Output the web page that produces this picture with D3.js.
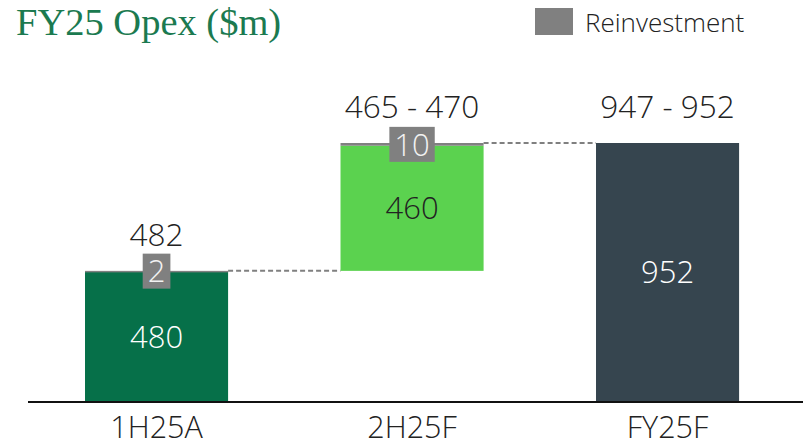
<!DOCTYPE html>
<html>
<head>
<meta charset="utf-8">
<script src="https://cdn.jsdelivr.net/npm/d3@7"></script>
<style>
  html, body { margin: 0; padding: 0; background: #fff; }
  svg { display: block; }
</style>
</head>
<body>
<svg id="chart" width="803" height="447"></svg>
<script>
const categories = ["1H25A", "2H25F", "FY25F"];
const baseValues = [0, 482, 0];
const mainValues = [480, 460, 952];
const reinvestValues = [2, 10, 0];
const topLabels = ["482", "465 - 470", "947 - 952"];
const mainLabels = ["480", "460", "952"];
const reinvestLabels = ["2", "10", ""];

const colors = ["#067049", "#5BD24F", "#36454F"];
const mainLabelColors = ["#ffffff", "#222222", "#ffffff"];
const grey = "#808080";
const font = "'Open Sans', sans-serif";

const svg = d3.select("#chart");

const x = d3.scaleBand().domain(categories).range([28.8, 795.3]).paddingInner(0.44).paddingOuter(0.22);
const y = d3.scaleLinear().domain([0, 952]).range([402, 143]);

// title
svg.append("text")
  .attr("x", 16).attr("y", 34.5)
  .attr("font-family", "Georgia, 'Liberation Serif', 'DejaVu Serif', serif")
  .attr("font-size", 38.5)
  .attr("fill", "#1B7A50")
  .text("FY25 Opex ($m)");

// legend
svg.append("rect").attr("x", 535).attr("y", 8).attr("width", 38).attr("height", 27).attr("fill", grey);
svg.append("text").attr("x", 585).attr("y", 32)
  .attr("font-family", font).attr("font-size", 26).attr("font-weight", 300).attr("fill", "#222")
  .text("Reinvestment");

const data = categories.map((c, i) => ({
  cat: c, base: baseValues[i], main: mainValues[i], re: reinvestValues[i],
  top: topLabels[i], mainLabel: mainLabels[i], reLabel: reinvestLabels[i], color: colors[i], mlc: mainLabelColors[i]
}));

// connectors
for (let i = 0; i < data.length - 1; i++) {
  const d = data[i], n = data[i + 1];
  const lvl = d.base + d.main + d.re;
  svg.append("line")
    .attr("x1", x(d.cat) + x.bandwidth()).attr("x2", x(n.cat))
    .attr("y1", y(lvl)).attr("y2", y(lvl))
    .attr("stroke", grey).attr("stroke-width", 2).attr("stroke-dasharray", "5,3");
}

const g = svg.selectAll("g.bar").data(data).enter().append("g").attr("class", "bar");

g.append("rect")
  .attr("x", d => x(d.cat)).attr("width", x.bandwidth())
  .attr("y", d => y(d.base + d.main))
  .attr("height", d => y(d.base) - y(d.base + d.main))
  .attr("fill", d => d.color);

g.filter(d => d.re > 0).append("rect")
  .attr("x", d => x(d.cat)).attr("width", x.bandwidth())
  .attr("y", d => y(d.base + d.main + d.re))
  .attr("height", d => Math.max(1.5, y(d.base + d.main) - y(d.base + d.main + d.re)))
  .attr("fill", grey);

// main labels
g.append("text")
  .attr("x", d => x(d.cat) + x.bandwidth() / 2)
  .attr("y", d => (y(d.base) + y(d.base + d.main)) / 2)
  .attr("dy", "0.35em")
  .attr("text-anchor", "middle")
  .attr("font-family", font).attr("font-size", 31).attr("font-weight", 300)
  .attr("fill", d => d.mlc)
  .text(d => d.mainLabel);

// top labels
g.append("text")
  .attr("x", d => x(d.cat) + x.bandwidth() / 2)
  .attr("y", d => y(d.base + d.main + d.re) - 25)
  .attr("text-anchor", "middle")
  .attr("font-family", font).attr("font-size", 31.5).attr("font-weight", 300)
  .attr("fill", "#222")
  .text(d => d.top);

// reinvestment boxes
g.filter(d => d.re > 0).each(function(d) {
  const sel = d3.select(this);
  const cx = x(d.cat) + x.bandwidth() / 2;
  const cy = y(d.base + d.main + d.re / 2);
  const rect = sel.append("rect").attr("fill", grey);
  const t = sel.append("text")
    .attr("x", cx).attr("y", cy).attr("dy", "0.36em")
    .attr("text-anchor", "middle")
    .attr("font-family", font).attr("font-size", 31).attr("font-weight", 300)
    .attr("fill", "#f2f2f2")
    .text(d.reLabel);
  const w = t.node().getComputedTextLength() + 10;
  rect.attr("x", cx - w / 2).attr("y", cy - 17.5).attr("width", w).attr("height", 35);
});

// axis
const axis = d3.axisBottom(x).tickSize(0).tickPadding(14);
const ax = svg.append("g").attr("transform", "translate(0,402)").call(axis);
ax.select(".domain").remove();
ax.selectAll("text").attr("font-family", font).attr("font-size", 30.5).attr("font-weight", 300).attr("fill", "#222");
svg.append("line").attr("x1", 28).attr("x2", 803).attr("y1", 402).attr("y2", 402)
  .attr("stroke", "#111").attr("stroke-width", 2);
</script>
</body>
</html>
